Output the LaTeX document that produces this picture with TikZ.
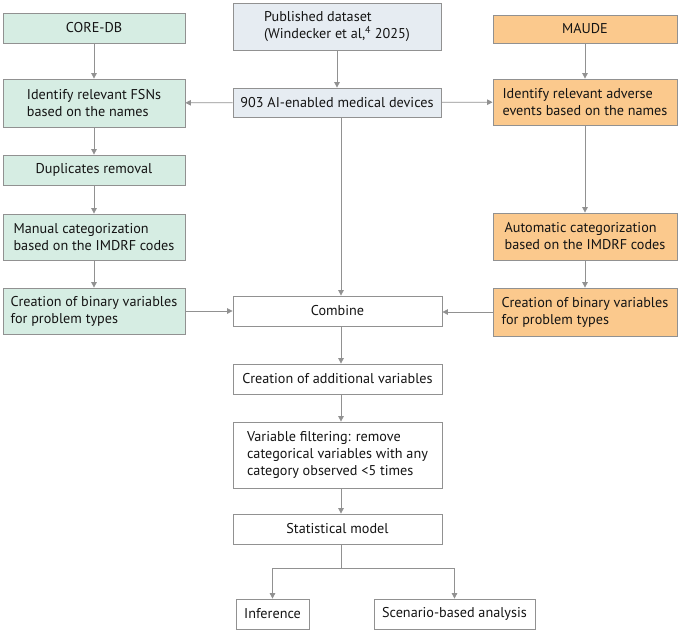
\documentclass[tikz,border=0pt]{standalone}
\usepackage{fontspec}
\setmainfont{PT Sans}
\usetikzlibrary{arrows.meta}
\definecolor{boxgreen}{RGB}{214,237,227}
\definecolor{boxblue}{RGB}{230,236,242}
\definecolor{boxorange}{RGB}{251,201,141}
\definecolor{lineg}{RGB}{145,145,145}
\definecolor{txt}{RGB}{20,20,20}
\begin{document}
\begin{tikzpicture}[x=1pt,y=-1pt,
	box/.style={draw=lineg,line width=.8pt,inner sep=0pt,align=left,text=txt,
		font=\fontsize{14.2}{17}\selectfont},
	green/.style={box,fill=boxgreen,minimum width=182pt},
	blue/.style={box,fill=boxblue,minimum width=208pt},
	orange/.style={box,fill=boxorange,minimum width=184pt},
	white/.style={box,fill=white},
	flow/.style={draw=lineg,line width=.8pt,-{Triangle[width=5.5pt,length=5.5pt]}}]
	\useasboundingbox (0,0) rectangle (680,633);
	
	\node[green,minimum height=30pt] (coredb) at (94,28) {CORE-DB};
	\node[green,minimum height=48pt] (fsn) at (94,103) {Identify relevant FSNs\\based on the names};
	\node[green,minimum height=30pt] (dup) at (94,170) {Duplicates removal};
	\node[green,minimum height=46pt] (manual) at (94,237) {Manual categorization\\based on the IMDRF codes};
	\node[green,minimum height=46pt] (binl) at (94,311) {Creation of binary variables\\for problem types};
	
	\node[blue,minimum height=47pt] (pub) at (337,26.5) {Published dataset\\(Windecker et al,\textsuperscript{4} 2025)};
	\node[blue,minimum height=29pt] (ai) at (337,102.5) {903 AI-enabled medical devices};
	
	\node[orange,minimum height=28pt] (maude) at (585,29) {MAUDE};
	\node[orange,minimum height=46pt] (adverse) at (585,102) {Identify relevant adverse\\events based on the names};
	\node[orange,minimum height=47pt] (auto) at (585,236.5) {Automatic categorization\\based on the IMDRF codes};
	\node[orange,minimum height=48pt] (binr) at (585,312) {Creation of binary variables\\for problem types};
	
	\node[white,minimum width=209pt,minimum height=30pt] (combine) at (337.5,311) {Combine};
	\node[white,minimum width=209pt,minimum height=30pt] (addl) at (337.5,379) {Creation of additional variables};
	\node[white,minimum width=209pt,minimum height=66pt] (filter) at (337.5,455) {Variable filtering: remove\\categorical variables with any\\category observed <5 times};
	\node[white,minimum width=209pt,minimum height=30pt] (stat) at (337.5,529) {Statistical model};
	\node[white,minimum width=73pt,minimum height=30pt] (inf) at (272.5,614) {Inference};
	\node[white,minimum width=161pt,minimum height=30pt] (scen) at (454.5,614) {Scenario-based analysis};
	
	\coordinate (split) at (341,568);
	
	\draw[flow] (coredb) -- (fsn);
	\draw[flow] (fsn) -- (dup);
	\draw[flow] (dup) -- (manual);
	\draw[flow] (manual) -- (binl);
	\draw[flow] (binl) -- (combine);
	
	\draw[flow] (pub) -- (ai);
	\draw[flow] (ai) -- (fsn);
	\draw[flow] (ai) -- (adverse);
	\draw[flow] (ai.south -| split) -- (combine.north -| split);
	
	\draw[flow] (maude) -- (adverse);
	\draw[flow] (adverse) -- (auto);
	\draw[flow] (auto) -- (binr);
	\draw[flow] (binr.west) -- (combine.east |- binr.west);
	
	\draw[flow] (combine.south -| split) -- (addl.north -| split);
	\draw[flow] (addl.south -| split) -- (filter.north -| split);
	\draw[flow] (filter.south -| split) -- (stat.north -| split);
	\draw[lineg,line width=.8pt] (stat.south -| split) -- (split);
	\draw[flow] (split) -| (inf.north);
	\draw[flow] (split) -| (scen.north);
\end{tikzpicture}
\end{document}
